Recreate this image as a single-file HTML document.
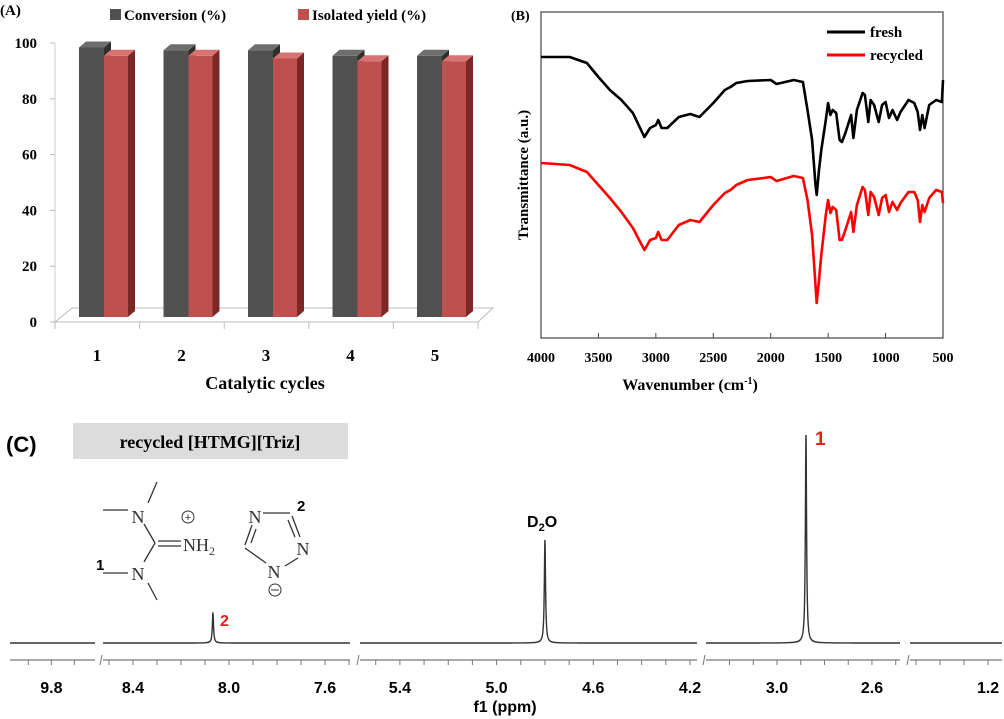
<!DOCTYPE html>
<html><head><meta charset="utf-8">
<style>
body{margin:0;background:#fff;}
svg{display:block;}
.serif{font-family:"Liberation Serif",serif;font-weight:bold;}
.sans{font-family:"Liberation Sans",sans-serif;}
</style></head>
<body>
<svg id="fig" width="1004" height="719" viewBox="0 0 1004 719" xmlns="http://www.w3.org/2000/svg">
  <g id="panelA">
    <text x="0" y="15" class="serif" font-size="15">(A)</text>
    <rect x="110" y="9" width="11" height="11" fill="#505050"/>
    <text x="124" y="20" class="serif" font-size="15">Conversion (%)</text>
    <rect x="298" y="9" width="11" height="11" fill="#c0504d"/>
    <text x="312" y="20" class="serif" font-size="15">Isolated yield (%)</text>
    <polygon points="55,322 478,322 493,308 72,308" fill="none" stroke="#bbb" stroke-width="1"/>
    <line x1="55" y1="43" x2="55" y2="322" stroke="#ccc"/>
    <text x="265" y="389" class="serif" font-size="18" text-anchor="middle">Catalytic cycles</text>
  </g>
  <g id="panelB">
    <text x="511" y="20" class="serif" font-size="14">(B)</text>
    <rect x="541" y="12" width="402" height="326" fill="none" stroke="#444" stroke-width="1.2"/>
    <line x1="827" y1="32" x2="865" y2="32" stroke="#000" stroke-width="3"/>
    <text x="870" y="37" class="serif" font-size="15">fresh</text>
    <line x1="827" y1="55" x2="865" y2="55" stroke="#f00" stroke-width="3"/>
    <text x="870" y="60" class="serif" font-size="15">recycled</text>
    <text transform="translate(528,175) rotate(-90)" class="serif" font-size="15" text-anchor="middle">Transmittance (a.u.)</text>
    <text x="690" y="390" class="serif" font-size="16" text-anchor="middle">Wavenumber (cm<tspan font-size="10" dy="-6">-1</tspan><tspan dy="6">)</tspan></text>
  </g>
  <g id="panelC">
    <text x="6" y="452" class="sans" font-weight="bold" font-size="22">(C)</text>
    <rect x="73" y="423" width="275" height="36" fill="#dcdcdc"/>
    <text x="210" y="448" class="serif" font-size="18" text-anchor="middle">recycled [HTMG][Triz]</text>
    <g stroke="#333" stroke-width="1.3" fill="none">
      <line x1="157" y1="482" x2="148" y2="503"/>
      <line x1="103" y1="510" x2="128" y2="510"/>
      <line x1="144" y1="524" x2="155" y2="543"/>
      <line x1="158" y1="541" x2="181" y2="541"/>
      <line x1="158" y1="546" x2="181" y2="546"/>
      <line x1="155" y1="543" x2="144" y2="562"/>
      <line x1="103" y1="573" x2="128" y2="573"/>
      <line x1="148" y1="583" x2="157" y2="600"/>
      <line x1="263" y1="513" x2="290" y2="513"/>
      <line x1="292" y1="516" x2="300" y2="537"/>
      <line x1="288" y1="520" x2="295" y2="537"/>
      <line x1="252" y1="525" x2="245" y2="545"/>
      <line x1="256" y1="529" x2="251" y2="543"/>
      <line x1="245" y1="548" x2="266" y2="563"/>
      <line x1="298" y1="558" x2="285" y2="566"/>
    </g>
    <g font-family="Liberation Serif, serif" font-size="18" fill="#333">
      <text x="138" y="523" text-anchor="middle">N</text>
      <text x="183" y="551">NH<tspan font-size="12" dy="4">2</tspan></text>
      <text x="138" y="580" text-anchor="middle">N</text>
      <text x="255" y="523" text-anchor="middle">N</text>
      <text x="303" y="555" text-anchor="middle">N</text>
      <text x="274" y="578" text-anchor="middle">N</text>
    </g>
    <circle cx="188" cy="517" r="6" fill="none" stroke="#333"/>
    <text x="188" y="521" font-size="11" text-anchor="middle" class="sans" fill="#333">+</text>
    <circle cx="275" cy="590" r="6" fill="none" stroke="#333"/>
    <line x1="271" y1="590" x2="279" y2="590" stroke="#333"/>
    <text x="96" y="570" class="sans" font-weight="bold" font-size="15">1</text>
    <text x="297" y="511" class="sans" font-weight="bold" font-size="15">2</text>
    <text x="815" y="445" class="sans" font-weight="bold" font-size="19" fill="#e0201a">1</text>
    <text x="527" y="527" class="sans" font-weight="bold" font-size="16">D<tspan font-size="11" dy="4">2</tspan><tspan dy="-4">O</tspan></text>
    <text x="220" y="626" class="sans" font-weight="bold" font-size="16" fill="#e0201a">2</text>
    <text x="505" y="712" class="sans" font-weight="bold" font-size="16" text-anchor="middle">f1 (ppm)</text>
  </g>
</svg>
<script>
// ---- Panel A data ----
const cycles = ["1","2","3","4","5"];
const conversion = [98, 97, 97, 95, 95];
const isolatedYield = [95, 95, 94, 93, 93];
const aTicks = [0, 20, 40, 60, 80, 100];
// ---- Panel B data ----
const wavenumbers = [4000,3750,3600,3500,3400,3300,3200,3100,3050,3000,2980,2950,2900,2800,2700,2620,2500,2400,2350,2300,2200,2000,1950,1800,1720,1680,1640,1610,1600,1580,1560,1520,1500,1480,1460,1430,1400,1380,1350,1300,1280,1250,1200,1180,1150,1130,1100,1060,1030,1000,970,940,900,870,800,750,720,700,680,660,620,560,510,500];
const freshT = [57,57,63,77,90,100,113,137,128,125,120,128,128,117,114,117,103,90,87,83,81,80,84,80,82,110,140,185,195,170,150,120,103,115,110,113,140,142,133,115,138,110,93,95,122,100,105,122,105,102,118,110,120,112,100,103,112,130,115,128,105,100,102,80];
const recycledT = [163,165,172,185,198,212,228,250,240,238,232,240,240,225,220,222,205,193,190,185,180,177,181,176,178,200,235,285,303,280,255,215,200,213,207,210,240,240,230,212,232,205,187,190,215,192,197,215,198,195,212,202,210,203,192,192,200,222,205,212,198,190,192,203];
const bTicks = [4000,3500,3000,2500,2000,1500,1000,500];
// ---- Panel C data ----
const segStarts = [9.98, 8.525, 5.565, 3.299, 1.525];
const segEnds = [9.61, 7.496, 4.171, 2.482, 1.142];
const cTickLabels = [[9.8],[8.4,8.0,7.6],[5.4,5.0,4.6,4.2],[3.0,2.6],[1.2]];
const peakPpm = [8.067, 4.80, 2.878];
const peakHeight = [30, 103, 208];

const NS = "http://www.w3.org/2000/svg";
const svg = document.getElementById("fig");
function mk(tag, attrs, parent){const e=document.createElementNS(NS,tag);for(const k in attrs)e.setAttribute(k,attrs[k]);(parent||svg).appendChild(e);return e;}

// Panel A
const gA = document.getElementById("panelA");
const yTickA = v => 322 - v*2.79;
const yBarA = v => 317 - v*2.75;
const groupX = i => 104 + i*84.5;
const DX = 7, DY = -6;
aTicks.forEach(t=>{
  const tx = mk("text",{x:37,y:yTickA(t)+5,"text-anchor":"end","font-size":15,class:"serif"},gA);
  tx.textContent = t;
  
  
  const l = mk("line",{x1:50,y1:yTickA(t),x2:55,y2:yTickA(t),stroke:"#bbb"},gA);
  
  
});
for(let i=0;i<=5;i++){
  const x = 55 + i*84.6;
  const l = mk("line",{x1:x,y1:322,x2:x,y2:329,stroke:"#bbb"},gA);
  
  
}
function bar3d(x0,w,v,front,side,top,name){
  const g = mk("g",{},gA);
  
  
  const yt = yBarA(v), yb = 317;
  mk("rect",{x:x0,y:yt,width:w,height:yb-yt,fill:front},g);
  mk("polygon",{points:`${x0+w},${yt} ${x0+w+DX},${yt+DY} ${x0+w+DX},${yb+DY} ${x0+w},${yb}`,fill:side},g);
  mk("polygon",{points:`${x0},${yt} ${x0+DX},${yt+DY} ${x0+w+DX},${yt+DY} ${x0+w},${yt}`,fill:top},g);
}
cycles.forEach((c,i)=>{
  const cx = groupX(i);
  bar3d(cx-25,25,conversion[i],"#505050","#2e2e2e","#6e6e6e","bar-conversion-"+c);
  bar3d(cx,24,isolatedYield[i],"#c0504d","#7a2725","#d77370","bar-yield-"+c);
  const t = mk("text",{x:cx-7,y:361,"text-anchor":"middle","font-size":17,class:"serif"},gA);
  t.textContent = c;
  
  
});

// Panel B
const gB = document.getElementById("panelB");
const xB = w => 541 + (4000-w)/3500*402;
bTicks.forEach(t=>{
  const l = mk("line",{x1:xB(t),y1:338,x2:xB(t),y2:333,stroke:"#444"},gB);
  
  
  const tx = mk("text",{x:xB(t),y:362,"text-anchor":"middle","font-size":14,class:"serif"},gB);
  tx.textContent = t;
  
  
});
function specPath(vals){return vals.map((v,i)=>(i?"L":"M")+xB(wavenumbers[i]).toFixed(1)+","+v).join(" ");}
const pf = mk("path",{d:specPath(freshT),fill:"none",stroke:"#000","stroke-width":2.6,"stroke-linejoin":"round"},gB);


const pr = mk("path",{d:specPath(recycledT),fill:"none",stroke:"#f00","stroke-width":2.6,"stroke-linejoin":"round"},gB);



// Panel C
const gC = document.getElementById("panelC");
const segX0 = [10, 103, 360, 706, 910];
const segX1 = [95, 350, 697, 900, 1002];
const BASE = 643, AXY = 660;
function xC(s, ppm){return segX0[s] + (segStarts[s]-ppm)/(segStarts[s]-segEnds[s])*(segX1[s]-segX0[s]);}
function segOf(ppm){for(let s=0;s<5;s++){if(ppm<=segStarts[s]&&ppm>=segEnds[s])return s;}return -1;}
for(let s=0;s<5;s++){
  const pts = [];
  const n = 3000;
  for(let k=0;k<=n;k++) pts.push(segStarts[s] - (segStarts[s]-segEnds[s])*k/n);
  peakPpm.forEach(p=>{ if(segOf(p)===s) pts.push(p); });
  pts.sort((a,b)=>b-a);
  let d = "";
  pts.forEach((ppm,k)=>{
    let y = BASE;
    peakPpm.forEach((p,j)=>{ if(segOf(p)===s){const dx=(ppm-p)/0.003; y -= peakHeight[j]/(1+dx*dx);} });
    d += (k?"L":"M")+xC(s,ppm).toFixed(2)+","+y.toFixed(1);
  });
  const sp = mk("path",{d:d,fill:"none",stroke:"#333","stroke-width":1.4},gC);
  
  
  const ax = mk("line",{x1:segX0[s],y1:AXY,x2:segX1[s],y2:AXY,stroke:"#777","stroke-width":1.2},gC);
  
  
  for(let p=Math.floor(segStarts[s]*10)/10; p>=segEnds[s]-1e-6; p-=0.1){
    const x = xC(s,p);
    const l = mk("line",{x1:x,y1:AXY,x2:x,y2:AXY+5,stroke:"#777"},gC);
    
    
  }
  cTickLabels[s].forEach(p=>{
    const t = mk("text",{x:xC(s,p),y:693,"text-anchor":"middle","font-size":16,"font-weight":"bold",class:"sans"},gC);
    t.textContent = p.toFixed(1);
    
    
  });
  if(s>0){
    const br = mk("line",{x1:segX0[s]-3,y1:AXY+5,x2:segX0[s]-1,y2:AXY-5,stroke:"#777"},gC);
    
    
  }
}
</script>
</body></html>
